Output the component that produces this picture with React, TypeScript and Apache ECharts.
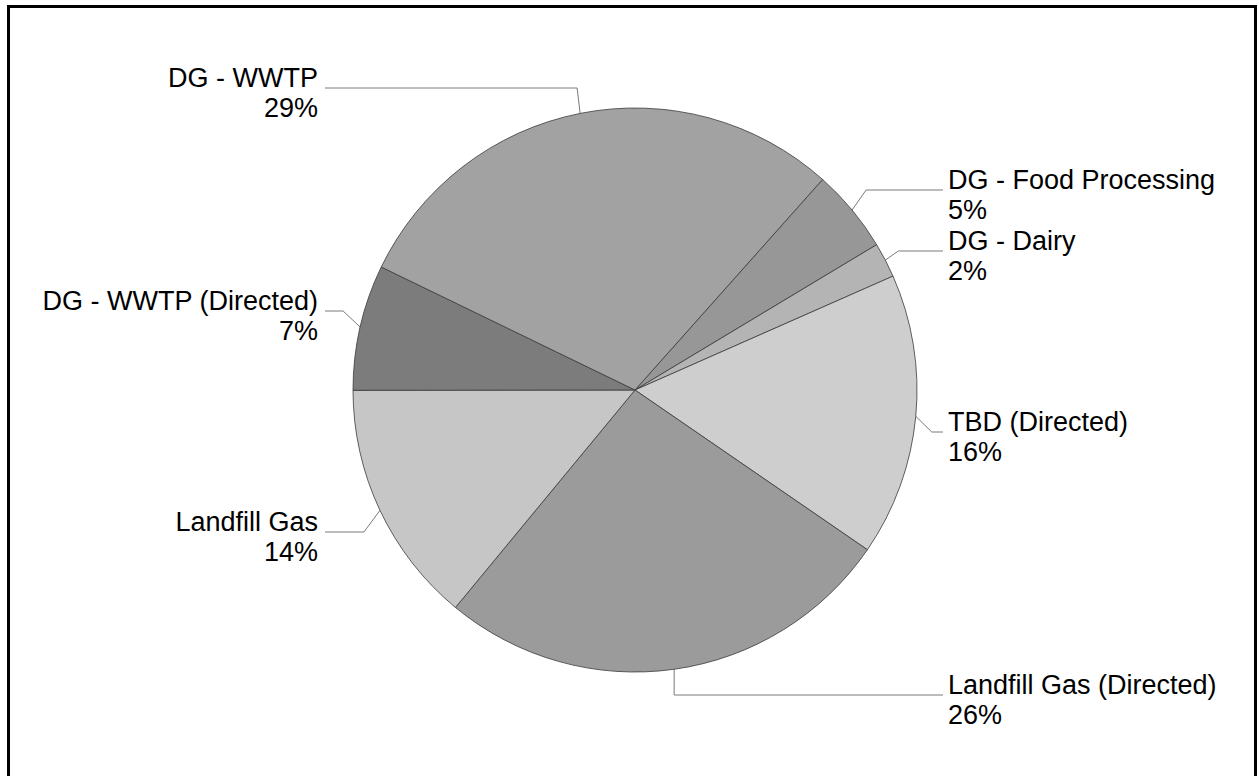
import React, { useEffect, useRef } from "react";
import * as echarts from "echarts";

// Data (clockwise, starting with the slice after the top boundary)
const categories = [
  "DG - Food Processing",
  "DG - Dairy",
  "TBD (Directed)",
  "Landfill Gas (Directed)",
  "Landfill Gas",
  "DG - WWTP (Directed)",
  "DG - WWTP",
];
const shares = [4.8, 2.0, 16.2, 26.4, 14.0, 7.2, 29.4];

// Styles / layout (not data)
const sliceColors = ["#979797", "#b4b4b4", "#cecece", "#9b9b9b", "#c6c6c6", "#7c7c7c", "#a2a2a2"];
const labelBaselines = [190, 251, 432, 695, 532, 311, 88];
const elbowDx = [14, 13, 16, 0, -16, -17, -3];

const CX = 635;
const CY = 390;
const R = 282;
const RIGHT_LINE_END = 943;
const LEFT_LINE_END = 325;
const RIGHT_LABEL_X = 948;
const LEFT_LABEL_X = 318;

export default function App() {
  const ref = useRef<HTMLDivElement>(null);

  useEffect(() => {
    if (!ref.current) return;
    const chart = echarts.init(ref.current, null, { renderer: "svg" });
    const total = shares.reduce((a, b) => a + b, 0);

    chart.setOption({
      animation: false,
      backgroundColor: "#ffffff",
      graphic: [
        {
          type: "rect",
          z: 0,
          shape: { x: 8.5, y: 6.5, width: 1247, height: 820 },
          style: { fill: "none", stroke: "#000000", lineWidth: 3 },
        },
      ],
      series: [
        {
          type: "pie",
          center: [CX, CY],
          radius: R,
          startAngle: 48.3,
          clockwise: true,
          avoidLabelOverlap: false,
          data: categories.map((name, i) => ({
            name,
            value: shares[i],
            itemStyle: { color: sliceColors[i] },
          })),
          itemStyle: { borderColor: "#3a3a3a", borderWidth: 0.8 },
          label: {
            show: true,
            position: "outside",
            color: "#000000",
            fontFamily: "Liberation Sans, Arial, sans-serif",
            fontSize: 27,
            lineHeight: 30,
            formatter: (p: any) => `${p.name}\n${Math.round((p.value / total) * 100)}%`,
          },
          labelLine: {
            show: true,
            length: 20,
            length2: 20,
            lineStyle: { color: "#7a7a7a", width: 1 },
          },
          emphasis: { disabled: true },
          labelLayout: (params: any) => {
            const i = params.dataIndex;
            const pts = params.labelLinePoints;
            let ex: number, ey: number;
            if (pts && pts[0]) {
              ex = pts[0][0];
              ey = pts[0][1];
            } else {
              ex = CX;
              ey = CY;
            }
            const isLeft = ex < CX;
            const by = labelBaselines[i];
            const elbow = [ex + elbowDx[i], by];
            const end = [isLeft ? LEFT_LINE_END : RIGHT_LINE_END, by];
            return {
              x: isLeft ? LEFT_LABEL_X : RIGHT_LABEL_X,
              y: by - 25,
              align: isLeft ? "right" : "left",
              verticalAlign: "top",
              labelLinePoints: [[ex, ey], elbow, end],
            };
          },
        },
      ],
    });

    return () => chart.dispose();
  }, []);

  return (
    <div
      ref={ref}
      style={{ position: "fixed", left: 0, top: 0, width: 1259, height: 776 }}
    />
  );
}
